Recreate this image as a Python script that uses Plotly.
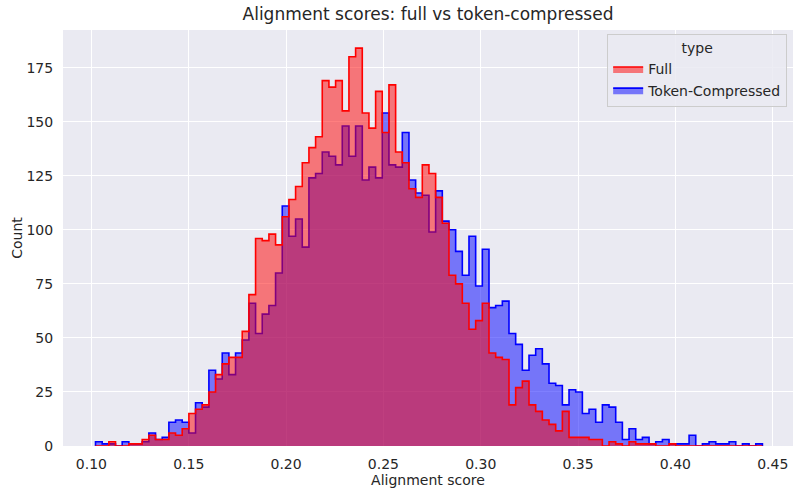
import plotly.graph_objects as go

# Histogram data (100 equal-width bins)
bin_start = 0.1021
bin_width = 0.003426
n_bins = 100

full_counts = [
    0, 0, 2, 0, 0, 1, 1, 3, 5, 3,
    3, 6, 5, 8, 15, 17, 19, 25, 33, 38,
    41, 41, 53, 70, 96, 95, 98, 93, 106, 114,
    120, 131, 138, 143, 169, 166, 169, 155, 180, 184,
    154, 147, 164, 145, 167, 136, 131, 119, 115, 130,
    126, 115, 103, 79, 75, 66, 54, 58, 66, 43,
    41, 40, 19, 27, 30, 19, 16, 12, 10, 7,
    16, 4, 4, 4, 3, 3, 0, 2, 1, 0,
    2, 1, 1, 1, 0, 0, 1, 0, 0, 0,
    0, 0, 0, 0, 0, 0, 0, 0, 0, 0,
]

token_counts = [
    2, 1, 1, 0, 2, 1, 1, 2, 6, 3,
    4, 11, 12, 11, 6, 20, 18, 35, 31, 43,
    33, 43, 49, 66, 52, 61, 65, 80, 111, 97,
    105, 92, 124, 126, 136, 134, 130, 148, 134, 148,
    123, 129, 124, 154, 130, 129, 145, 123, 117, 116,
    99, 118, 104, 100, 90, 79, 97, 74, 91, 64,
    65, 67, 52, 47, 35, 42, 45, 38, 29, 28,
    19, 26, 25, 15, 17, 11, 19, 18, 11, 3,
    8, 3, 4, 1, 2, 3, 1, 1, 1, 5,
    0, 1, 2, 1, 1, 2, 0, 1, 0, 1,
]

series_names = ["Full", "Token-Compressed"]
x_ticks = [0.10, 0.15, 0.20, 0.25, 0.30, 0.35, 0.40, 0.45]
y_ticks = [0, 25, 50, 75, 100, 125, 150, 175]

edges = [bin_start + bin_width * k for k in range(n_bins + 1)]


def step_xy(counts):
    xs = [edges[0]] + edges[:n_bins] + [edges[n_bins], edges[n_bins]]
    ys = [0] + list(counts) + [counts[-1], 0]
    return xs, ys


FONT = "DejaVu Sans"
TXT = "#262626"
FS = 14

fig = go.Figure()

bx, by = step_xy(token_counts)
fig.add_trace(go.Scatter(
    x=bx, y=by, mode="lines", line=dict(shape="hv", color="rgb(0,0,255)", width=1.6),
    fill="tozeroy", fillcolor="rgba(0,0,255,0.5)", name=series_names[1], legendrank=2,
))
rx, ry = step_xy(full_counts)
fig.add_trace(go.Scatter(
    x=rx, y=ry, mode="lines", line=dict(shape="hv", color="rgb(255,0,0)", width=1.6),
    fill="tozeroy", fillcolor="rgba(255,0,0,0.5)", name=series_names[0], legendrank=1,
))

fig.update_layout(
    width=793, height=489,
    margin=dict(l=63, r=0, t=30, b=43),
    paper_bgcolor="white", plot_bgcolor="#eaeaf2",
    font=dict(family=FONT, size=FS, color=TXT),
    title=dict(text="Alignment scores: full vs token-compressed", x=0.5, xref="paper",
               y=1 - 14 / 489, yref="container", yanchor="middle",
               font=dict(size=17, color=TXT)),
    showlegend=True,
    legend=dict(
        title=dict(text="type", side="top center", font=dict(size=FS, color=TXT)),
        x=0.992, xanchor="right", y=0.99, yanchor="top",
        bgcolor="rgba(234,234,242,0.85)", bordercolor="#cccccc", borderwidth=1,
        font=dict(size=FS, color=TXT),
    ),
)
fig.update_xaxes(
    range=[0.0854, 0.4604], tickvals=x_ticks, tickformat=".2f",
    showgrid=True, gridcolor="white", gridwidth=1, zeroline=False, showline=False,
    ticks="outside", ticklen=5, tickcolor="rgba(0,0,0,0)",
    title=dict(text="Alignment score", standoff=4, font=dict(size=FS)),
)
fig.update_yaxes(
    range=[0, 192.4], tickvals=y_ticks,
    showgrid=True, gridcolor="white", gridwidth=1, zeroline=False, showline=False,
    ticks="outside", ticklen=6, tickcolor="rgba(0,0,0,0)",
    title=dict(text="Count", standoff=0, font=dict(size=FS)),
)

# remove the default page margin so the figure fills the window
fig.write_html("out.html", config={"displayModeBar": False},
               post_script="document.body.style.margin='0px';")
